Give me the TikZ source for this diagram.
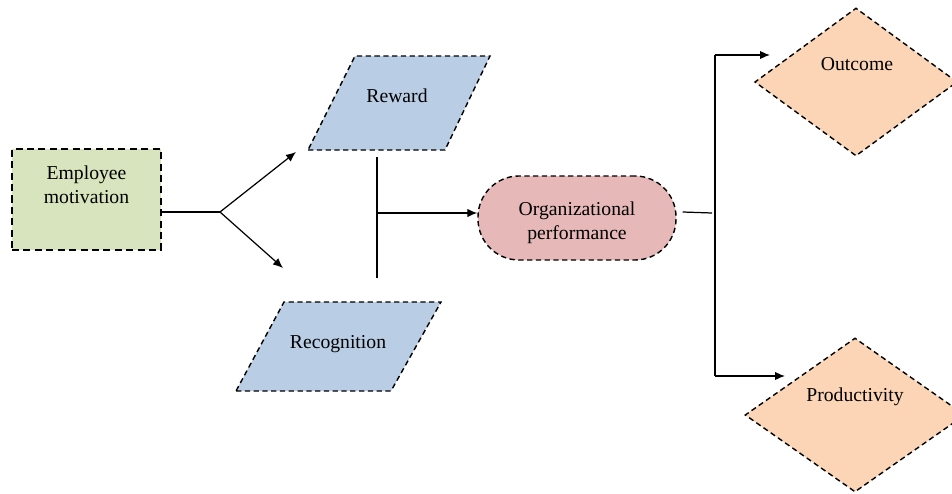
\documentclass[tikz,border=0pt]{standalone}
\usepackage{fontspec}
\setmainfont{Liberation Serif}
\usetikzlibrary{shapes.geometric,arrows.meta,positioning}

\definecolor{empgreen}{HTML}{D7E4BD}
\definecolor{factblue}{HTML}{B9CDE5}
\definecolor{orgpink}{HTML}{E6B9B8}
\definecolor{resorange}{HTML}{FBD5B5}

\begin{document}
\begin{tikzpicture}[
    font=\fontsize{11.2}{13.5}\selectfont,
    dashbox/.style={draw, dash pattern=on 3pt off 2pt, line width=0.8pt},
    factor/.style={dashbox, fill=factblue},
    result/.style={dashbox, fill=resorange, diamond, inner sep=0pt},
    link/.style={line width=0.7pt},
    arr/.style={link, -{Latex[length=2mm, width=1.7mm]}}
]
\clip (0,0) rectangle (19.04,9.86);

% employee motivation
\node[draw, fill=empgreen, dash pattern=on 4pt off 2.5pt, line width=1.5pt,
    minimum width=2.98cm, minimum height=2.02cm] (emp) at (1.73,5.87) {};
\node[align=center] (emptext) at (1.73,6.17) {Employee\\motivation};
\coordinate (split) at (4.4,5.62);
\draw[link] (emp.east |- split) -- (split);
\draw[arr] (split) -- (5.92,6.82);
\draw[arr] (split) -- (5.66,4.5);

% reward and recognition
\filldraw[factor] (6.16,6.86) -- (8.9,6.86) -- (9.8,8.74) -- (7.1,8.74) -- cycle;
\node (reward) at (7.94,7.94) {Reward};
\filldraw[factor] (4.72,2.04) -- (7.82,2.04) -- (8.82,3.82) -- (5.68,3.82) -- cycle;
\node (recog) at (6.76,2.98) {Recognition};

\coordinate (jtop) at (7.54,6.72);
\coordinate (jbot) at (7.54,4.3);
\coordinate (jmid) at (7.54,5.6);
\draw[link] (jtop) -- (jbot);

% organizational performance
\node[dashbox, fill=orgpink, rounded corners=0.82cm, minimum width=3.96cm,
    minimum height=1.68cm] (org) at (11.54,5.5) {};
\node[align=center] (orgtext) at (11.54,5.4) {Organizational\\performance};
\draw[arr] (jmid) -- (org.west |- jmid);

% outcome and productivity
\coordinate (trunktop) at (14.3,8.76);
\coordinate (trunkbot) at (14.3,2.34);
\draw[link] ([xshift=0.12cm]org.east |- 0,5.62) -- (14.24,5.6);
\draw[link] (trunktop) -- (trunkbot);

\node[result, minimum width=4.05cm, minimum height=2.96cm] (outcome) at (17.12,8.22) {};
\node (outtext) at (17.14,8.58) {Outcome};
\node[result, minimum width=4.4cm, minimum height=3.08cm] (prod) at (17.1,1.56) {};
\node (prodtext) at (17.1,1.93) {Productivity};

\draw[arr] (trunktop) -- (15.4,8.76);
\draw[arr] (trunkbot) -- (15.7,2.34);
\end{tikzpicture}
\end{document}
